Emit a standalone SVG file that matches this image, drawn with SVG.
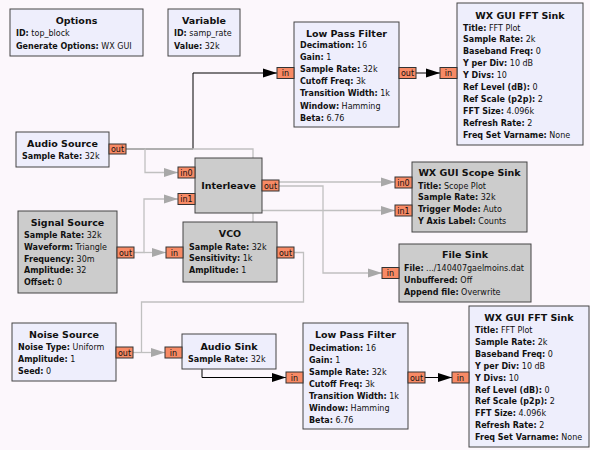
<svg xmlns="http://www.w3.org/2000/svg" width="590" height="450" viewBox="0 0 590 450">
<style>
.bg{fill:#fcf7fc}
.blk{fill:#eeeefc;stroke:#444;stroke-width:1}
.dis{fill:#cccccc;stroke:#444;stroke-width:1}
.port{fill:#f88a65;stroke:#333;stroke-width:1}
text{font-family:"DejaVu Sans","Liberation Sans",sans-serif;fill:#111}
.t{font-size:9.5px;font-weight:bold;text-anchor:middle}
.p{font-size:8px}
.p tspan.b{font-weight:bold}
.pt{font-size:8px;text-anchor:middle}
.cg{fill:none;stroke:#c0c0c0;stroke-width:1.3}
.cb{fill:none;stroke:#000;stroke-width:1}
</style>
<defs>
<marker id="ag" viewBox="0 0 14 10" refX="14" refY="5" markerWidth="14" markerHeight="10" markerUnits="userSpaceOnUse" orient="auto"><path d="M0,0.5 L14,5 L0,9.5 z" fill="#a8a8a8"/></marker>
<marker id="ab" viewBox="0 0 14 10" refX="14" refY="5" markerWidth="14" markerHeight="10" markerUnits="userSpaceOnUse" orient="auto"><path d="M0,0.5 L14,5 L0,9.5 z" fill="#000"/></marker>
</defs>
<rect class="bg" x="0" y="0" width="590" height="450"/>
<g id="connectors">
<path class="cb" d="M126 149 H193 V73 H277" marker-end="url(#ab)"/>
<path class="cb" d="M416 73 H440" marker-end="url(#ab)"/>
<path class="cb" d="M133 352.5 H202 V377.5 H286" marker-end="url(#ab)"/>
<path class="cb" d="M425 377.5 H452" marker-end="url(#ab)"/>
<path class="cg" d="M126 149 H145 V172.5 H178" marker-end="url(#ag)"/>
<path class="cg" d="M145 149 H253 V245"/>
<path class="cg" d="M253 210.5 H395" marker-end="url(#ag)"/>
<path class="cg" d="M279 182 H395" marker-end="url(#ag)"/>
<path class="cg" d="M279 186 H323 V273 H382" marker-end="url(#ag)"/>
<path class="cg" d="M134 252.5 H144 V199 H178" marker-end="url(#ag)"/>
<path class="cg" d="M144 252.5 H166" marker-end="url(#ag)"/>
<path class="cg" d="M294 252.5 H303.5 V302 H141.5 V352.5"/>
<path class="cg" d="M133 352.5 H165" marker-end="url(#ag)"/>
</g>
<g id="options">
<rect class="blk" x="10" y="9" width="133" height="47"/>
<text class="t" x="76.5" y="24">Options</text>
<text class="p" x="16" y="36"><tspan class="b">ID:</tspan> top_block</text>
<text class="p" x="16" y="49"><tspan class="b">Generate Options:</tspan> WX GUI</text>
</g>
<g id="variable">
<rect class="blk" x="168" y="9" width="72" height="47"/>
<text class="t" x="204" y="24">Variable</text>
<text class="p" x="174" y="36"><tspan class="b">ID:</tspan> samp_rate</text>
<text class="p" x="174" y="49"><tspan class="b">Value:</tspan> 32k</text>
</g>
<g id="lpf1">
<rect class="blk" x="294" y="22" width="105" height="105"/>
<text class="t" x="346.5" y="36.5">Low Pass Filter</text>
<text class="p" x="300" y="47.5"><tspan class="b">Decimation:</tspan> 16</text>
<text class="p" x="300" y="59.7"><tspan class="b">Gain:</tspan> 1</text>
<text class="p" x="300" y="71.9"><tspan class="b">Sample Rate:</tspan> 32k</text>
<text class="p" x="300" y="84.1"><tspan class="b">Cutoff Freq:</tspan> 3k</text>
<text class="p" x="300" y="96.3"><tspan class="b">Transition Width:</tspan> 1k</text>
<text class="p" x="300" y="108.5"><tspan class="b">Window:</tspan> Hamming</text>
<text class="p" x="300" y="120.7"><tspan class="b">Beta:</tspan> 6.76</text>
<rect class="port" x="277" y="67.5" width="17" height="11"/><text class="pt" x="285.5" y="76">in</text>
<rect class="port" x="399" y="67.5" width="17" height="11"/><text class="pt" x="407.5" y="76">out</text>
</g>
<g id="fft1">
<rect class="blk" x="457" y="3" width="126" height="142"/>
<text class="t" x="520" y="19">WX GUI FFT Sink</text>
<text class="p" x="463" y="30.5"><tspan class="b">Title:</tspan> FFT Plot</text>
<text class="p" x="463" y="42.4"><tspan class="b">Sample Rate:</tspan> 2k</text>
<text class="p" x="463" y="54.3"><tspan class="b">Baseband Freq:</tspan> 0</text>
<text class="p" x="463" y="66.2"><tspan class="b">Y per Div:</tspan> 10 dB</text>
<text class="p" x="463" y="78.1"><tspan class="b">Y Divs:</tspan> 10</text>
<text class="p" x="463" y="90"><tspan class="b">Ref Level (dB):</tspan> 0</text>
<text class="p" x="463" y="101.9"><tspan class="b">Ref Scale (p2p):</tspan> 2</text>
<text class="p" x="463" y="113.8"><tspan class="b">FFT Size:</tspan> 4.096k</text>
<text class="p" x="463" y="125.7"><tspan class="b">Refresh Rate:</tspan> 2</text>
<text class="p" x="463" y="137.6"><tspan class="b">Freq Set Varname:</tspan> None</text>
<rect class="port" x="440" y="67.5" width="17" height="11"/><text class="pt" x="448.5" y="76">in</text>
</g>
<g id="audio_source">
<rect class="blk" x="16" y="132" width="93" height="35"/>
<text class="t" x="62.5" y="147">Audio Source</text>
<text class="p" x="22" y="159"><tspan class="b">Sample Rate:</tspan> 32k</text>
<rect class="port" x="109" y="144" width="17" height="10"/><text class="pt" x="117.5" y="152">out</text>
</g>
<g id="interleave">
<rect class="dis" x="195" y="158" width="67" height="55"/>
<text class="t" x="228.5" y="189">Interleave</text>
<rect class="port" x="178" y="167" width="17" height="11"/><text class="pt" x="186.5" y="175.5">in0</text>
<rect class="port" x="178" y="193.5" width="17" height="11"/><text class="pt" x="186.5" y="202">in1</text>
<rect class="port" x="262" y="180" width="17" height="11"/><text class="pt" x="270.5" y="188.5">out</text>
</g>
<g id="signal_source">
<rect class="dis" x="18" y="211" width="99" height="82"/>
<text class="t" x="67.5" y="226">Signal Source</text>
<text class="p" x="24" y="238"><tspan class="b">Sample Rate:</tspan> 32k</text>
<text class="p" x="24" y="249.8"><tspan class="b">Waveform:</tspan> Triangle</text>
<text class="p" x="24" y="261.6"><tspan class="b">Frequency:</tspan> 30m</text>
<text class="p" x="24" y="273.4"><tspan class="b">Amplitude:</tspan> 32</text>
<text class="p" x="24" y="285.2"><tspan class="b">Offset:</tspan> 0</text>
<rect class="port" x="117" y="247" width="17" height="11"/><text class="pt" x="125.5" y="255.5">out</text>
</g>
<g id="vco">
<rect class="dis" x="183" y="222" width="94" height="60"/>
<text class="t" x="230" y="237">VCO</text>
<text class="p" x="189" y="249.5"><tspan class="b">Sample Rate:</tspan> 32k</text>
<text class="p" x="189" y="261.3"><tspan class="b">Sensitivity:</tspan> 1k</text>
<text class="p" x="189" y="273.1"><tspan class="b">Amplitude:</tspan> 1</text>
<rect class="port" x="166" y="247" width="17" height="11"/><text class="pt" x="174.5" y="255.5">in</text>
<rect class="port" x="277" y="247" width="17" height="11"/><text class="pt" x="285.5" y="255.5">out</text>
</g>
<g id="scope_sink">
<rect class="dis" x="412" y="162" width="115" height="70"/>
<text class="t" x="469.5" y="176">WX GUI Scope Sink</text>
<text class="p" x="418" y="188.5"><tspan class="b">Title:</tspan> Scope Plot</text>
<text class="p" x="418" y="200.3"><tspan class="b">Sample Rate:</tspan> 32k</text>
<text class="p" x="418" y="212.1"><tspan class="b">Trigger Mode:</tspan> Auto</text>
<text class="p" x="418" y="223.9"><tspan class="b">Y Axis Label:</tspan> Counts</text>
<rect class="port" x="395" y="177" width="17" height="11"/><text class="pt" x="403.5" y="185.5">in0</text>
<rect class="port" x="395" y="205" width="17" height="11"/><text class="pt" x="403.5" y="213.5">in1</text>
</g>
<g id="file_sink">
<rect class="dis" x="399" y="244" width="132" height="58"/>
<text class="t" x="465" y="258">File Sink</text>
<text class="p" x="404" y="270.5"><tspan class="b">File:</tspan> .../140407gaelmoins.dat</text>
<text class="p" x="404" y="282.5"><tspan class="b">Unbuffered:</tspan> Off</text>
<text class="p" x="404" y="294.5"><tspan class="b">Append file:</tspan> Overwrite</text>
<rect class="port" x="382" y="267.5" width="17" height="11"/><text class="pt" x="390.5" y="276">in</text>
</g>
<g id="noise_source">
<rect class="blk" x="12" y="323" width="104" height="58"/>
<text class="t" x="64" y="338">Noise Source</text>
<text class="p" x="18" y="350"><tspan class="b">Noise Type:</tspan> Uniform</text>
<text class="p" x="18" y="361.8"><tspan class="b">Amplitude:</tspan> 1</text>
<text class="p" x="18" y="373.6"><tspan class="b">Seed:</tspan> 0</text>
<rect class="port" x="116" y="347" width="17" height="11"/><text class="pt" x="124.5" y="355.5">out</text>
</g>
<g id="audio_sink">
<rect class="blk" x="182" y="334" width="94" height="35"/>
<text class="t" x="229" y="349.5">Audio Sink</text>
<text class="p" x="188" y="361.5"><tspan class="b">Sample Rate:</tspan> 32k</text>
<rect class="port" x="165" y="347" width="17" height="11"/><text class="pt" x="173.5" y="355.5">in</text>
</g>
<g id="lpf2">
<rect class="blk" x="303" y="323" width="105" height="106"/>
<text class="t" x="355.5" y="337.5">Low Pass Filter</text>
<text class="p" x="309" y="350.5"><tspan class="b">Decimation:</tspan> 16</text>
<text class="p" x="309" y="362.5"><tspan class="b">Gain:</tspan> 1</text>
<text class="p" x="309" y="374.5"><tspan class="b">Sample Rate:</tspan> 32k</text>
<text class="p" x="309" y="386.5"><tspan class="b">Cutoff Freq:</tspan> 3k</text>
<text class="p" x="309" y="398.5"><tspan class="b">Transition Width:</tspan> 1k</text>
<text class="p" x="309" y="410.5"><tspan class="b">Window:</tspan> Hamming</text>
<text class="p" x="309" y="422.5"><tspan class="b">Beta:</tspan> 6.76</text>
<rect class="port" x="286" y="372" width="17" height="11"/><text class="pt" x="294.5" y="380.5">in</text>
<rect class="port" x="408" y="372" width="17" height="11"/><text class="pt" x="416.5" y="380.5">out</text>
</g>
<g id="fft2">
<rect class="blk" x="469" y="306" width="120" height="141"/>
<text class="t" x="529" y="321">WX GUI FFT Sink</text>
<text class="p" x="475" y="333"><tspan class="b">Title:</tspan> FFT Plot</text>
<text class="p" x="475" y="344.9"><tspan class="b">Sample Rate:</tspan> 2k</text>
<text class="p" x="475" y="356.8"><tspan class="b">Baseband Freq:</tspan> 0</text>
<text class="p" x="475" y="368.7"><tspan class="b">Y per Div:</tspan> 10 dB</text>
<text class="p" x="475" y="380.6"><tspan class="b">Y Divs:</tspan> 10</text>
<text class="p" x="475" y="392.5"><tspan class="b">Ref Level (dB):</tspan> 0</text>
<text class="p" x="475" y="404.4"><tspan class="b">Ref Scale (p2p):</tspan> 2</text>
<text class="p" x="475" y="416.3"><tspan class="b">FFT Size:</tspan> 4.096k</text>
<text class="p" x="475" y="428.2"><tspan class="b">Refresh Rate:</tspan> 2</text>
<text class="p" x="475" y="440.1"><tspan class="b">Freq Set Varname:</tspan> None</text>
<rect class="port" x="452" y="372" width="17" height="11"/><text class="pt" x="460.5" y="380.5">in</text>
</g>
</svg>
